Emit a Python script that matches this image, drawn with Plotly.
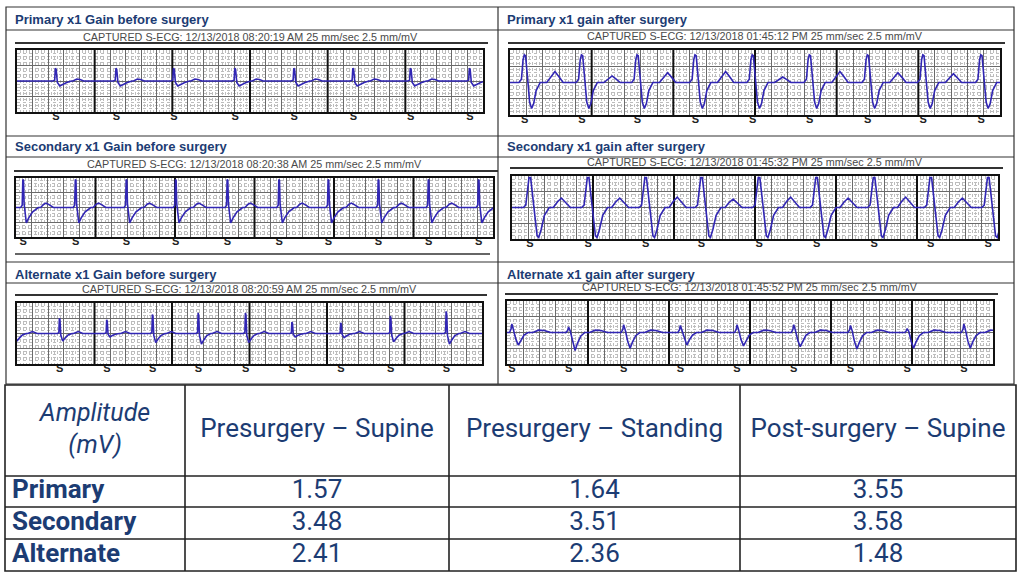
import plotly.graph_objects as go

W, H = 1021, 576
NAVY = "#1c3c73"
ECG_BLUE = "#3126b4"

# ---- amplitude table (mV) ----
conditions = ["Presurgery – Supine", "Presurgery – Standing", "Post-surgery – Supine"]
leads = ["Primary", "Secondary", "Alternate"]
primary_mv = [1.57, 1.64, 3.55]
secondary_mv = [3.48, 3.51, 3.58]
alternate_mv = [2.41, 2.36, 1.48]

# ---- strip headers ----
strip_titles = [
    "Primary x1 Gain before surgery", "Primary x1 gain after surgery",
    "Secondary x1 Gain before surgery", "Secondary x1 gain after surgery",
    "Alternate x1 Gain before surgery", "Alternate x1 gain after surgery",
]
capture_times = ["08:20:19 AM", "01:45:12 PM", "08:20:38 AM",
                 "01:45:32 PM", "08:20:59 AM", "01:45:52 PM"]

# ---- ECG beats (s) and beat templates (s rel. to R, mV) ----
# primary, before
beats_pb = [0.50, 1.28, 2.02, 2.81, 3.57, 4.33, 5.07, 5.83]
qrs_t_pb = [-0.04, -0.015, -0.006, 0.004, 0.02, 0.05, 0.09, 0.14, 0.2]
qrs_v_pb = [0.0, 0.1, 1.65, 1.5, -0.2, -0.65, -0.4, -0.2, 0.0]
tw_t_pb = [0.22, 0.27, 0.31, 0.36]
tw_v_pb = [0.0, 0.25, 0.2, 0.0]

# primary, after
beats_pa = [0.18, 0.88, 1.56, 2.27, 2.97, 3.67, 4.38, 5.06, 5.77]
qrs_t_pa = [-0.07, -0.04, -0.02, -0.005, 0.01, 0.035, 0.06, 0.085, 0.11, 0.14, 0.19]
qrs_v_pa = [0.0, 0.4, 2.8, 3.4, 3.3, 0.6, -2.4, -3.2, -2.6, -1.0, 0.0]
tw_t_pa = [0.27, 0.32, 0.37, 0.42, 0.47]
tw_v_pa = [0.0, 0.7, 1.35, 0.7, 0.0]
t_amp_pa = [1.0, 0.6, 0.9, 1.0, 0.5, 1.0, 0.9, 0.8, 1.0]

# secondary, before
beats_sb = [0.09, 0.75, 1.39, 2.01, 2.66, 3.31, 3.93, 4.56, 5.19, 5.82]
qrs_t_sb = [-0.03, -0.012, -0.004, 0.004, 0.012, 0.04, 0.07, 0.12, 0.19]
qrs_v_sb = [0.0, 0.3, 3.8, 3.7, 0.5, -2.1, -1.4, -0.6, 0.0]
tw_t_sb = [0.22, 0.26, 0.29, 0.33, 0.38]
tw_v_sb = [0.0, 0.45, 0.6, 0.35, 0.0]

# secondary, after
beats_sa = [0.22, 0.94, 1.65, 2.34, 3.05, 3.76, 4.47, 5.17, 5.88]
qrs_t_sa = [-0.08, -0.05, -0.025, -0.01, 0.01, 0.03, 0.06, 0.09, 0.11, 0.14, 0.18, 0.24]
qrs_v_sa = [0.0, 0.3, 2.5, 3.8, 3.8, 2.0, -1.5, -3.6, -3.8, -2.8, -1.0, 0.0]
tw_t_sa = [0.29, 0.34, 0.39, 0.44, 0.5]
tw_v_sa = [0.0, 0.7, 1.2, 0.7, 0.0]
t_amp_sa = [1.0, 1.0, 1.1, 0.9, 1.1, 1.0, 1.1, 1.0, 1.0]

# alternate, before (template normalised, amplitudes per beat in mV)
beats_ab = [-0.04, 0.55, 1.16, 1.75, 2.34, 2.95, 3.55, 4.18, 4.82, 5.54]
qrs_t_ab = [-0.03, -0.01, -0.003, 0.004, 0.015, 0.04, 0.07, 0.11, 0.16]
qrs_v_ab = [0.0, 0.05, 1.0, 0.9, -0.2, -1.0, -0.6, -0.2, 0.0]
tw_t_ab = [0.18, 0.24, 0.3]
tw_v_ab = [0.0, 0.25, 0.0]
r_amp_ab = [2.0, 2.0, 1.8, 2.5, 2.7, 2.7, 1.5, 1.4, 2.3, 2.9]
s_amp_ab = [1.0, 1.0, 0.45, 1.2, 1.4, 1.2, 0.45, 0.55, 1.1, 1.4]

# alternate, after
beats_aa = [0.06, 0.76, 1.44, 2.14, 2.84, 3.54, 4.24, 4.94, 5.64]
qrs_t_aa = [-0.03, -0.01, 0.0, 0.02, 0.05, 0.08, 0.11, 0.15, 0.2]
qrs_v_aa = [0.0, 0.4, 1.0, 0.3, -0.55, -1.0, -0.6, -0.2, 0.0]
tw_t_aa = [0.26, 0.33, 0.4, 0.48]
tw_v_aa = [0.0, 0.3, 0.25, 0.0]
r_amp_aa = [1.1, 0.7, 1.0, 0.9, 1.0, 1.0, 0.9, 0.5, 1.1]
s_amp_aa = [1.6, 2.3, 2.0, 1.6, 1.7, 1.8, 2.1, 2.0, 2.0]


def ecg(beats, qrs_t, qrs_v, tw_t, tw_v, r_amp=None, s_amp=None, t_amp=None):
    xs, ys = [-1.0], [0.0]
    for i, b in enumerate(beats):
        r = r_amp[i] if r_amp else 1.0
        s = s_amp[i] if s_amp else 1.0
        tg = t_amp[i] if t_amp else 1.0
        for t, v in zip(qrs_t, qrs_v):
            xs.append(b + t)
            ys.append(v * (r if v > 0 else s))
        for t, v in zip(tw_t, tw_v):
            xs.append(b + t)
            ys.append(v * tg)
    xs.append(7.0)
    ys.append(0.0)
    return xs, ys


strips = [
    (beats_pb, ecg(beats_pb, qrs_t_pb, qrs_v_pb, tw_t_pb, tw_v_pb)),
    (beats_pa, ecg(beats_pa, qrs_t_pa, qrs_v_pa, tw_t_pa, tw_v_pa, t_amp=t_amp_pa)),
    (beats_sb, ecg(beats_sb, qrs_t_sb, qrs_v_sb, tw_t_sb, tw_v_sb)),
    (beats_sa, ecg(beats_sa, qrs_t_sa, qrs_v_sa, tw_t_sa, tw_v_sa, t_amp=t_amp_sa)),
    (beats_ab, ecg(beats_ab, qrs_t_ab, qrs_v_ab, tw_t_ab, tw_v_ab, r_amp_ab, s_amp_ab)),
    (beats_aa, ecg(beats_aa, qrs_t_aa, qrs_v_aa, tw_t_aa, tw_v_aa, r_amp_aa, s_amp_aa)),
]

# strip boxes in pixels: x0, x1, y0, y1
strip_px = [(17, 483, 50, 112), (510, 1000, 50, 115),
            (16, 493, 178, 237), (512, 998, 176, 239),
            (17, 482, 303, 364), (507, 993, 301, 364)]
title_y = [19, 19, 147, 147, 274, 274]
caption_y = [37, 36, 164, 162, 289, 287]
rule_y = [43, 43, 171, 168, 295, 294]


def px(x):
    return x / W


def py(y):
    return 1 - y / H


fig = go.Figure()
shapes = []
annotations = []

for i, (beats, (xs, ys)) in enumerate(strips):
    n = i + 1
    xa, ya = ("x", "y") if n == 1 else (f"x{n}", f"y{n}")
    sfx = "" if n == 1 else str(n)
    x0, x1, y0, y1 = strip_px[i]
    # one-second divisions drawn as a line trace under the ECG
    sec_x, sec_y = [], []
    for k in range(1, 6):
        sec_x += [k, k, None]
        sec_y += [-4, 4, None]
    fig.add_trace(go.Scatter(x=sec_x, y=sec_y, mode="lines", xaxis=xa, yaxis=ya,
                             line=dict(color="#111", width=2), hoverinfo="skip",
                             showlegend=False))
    fig.add_trace(go.Scatter(x=xs, y=ys, mode="lines", xaxis=xa, yaxis=ya,
                             line=dict(color=ECG_BLUE, width=1.6), hoverinfo="skip",
                             showlegend=False))
    shown = [b for b in beats if 0 <= b <= 6]
    fig.add_trace(go.Scatter(x=shown, y=[-4] * len(shown), mode="text",
                             text=["<b>S</b>"] * len(shown),
                             textposition="bottom center", cliponaxis=False,
                             textfont=dict(family="Arial, Liberation Sans", size=11, color="#222"),
                             xaxis=xa, yaxis=ya, hoverinfo="skip", showlegend=False))
    fig.update_layout({
        f"xaxis{sfx}": dict(
            domain=[px(x0), px(x1)], range=[0, 6], anchor=ya, dtick=0.2, tick0=0,
            showgrid=True, gridcolor="#6a6a6a", gridwidth=1,
            minor=dict(dtick=0.04, showgrid=True, gridcolor="#bdbdbd", griddash="dot", gridwidth=0.6),
            showticklabels=False, ticks="", zeroline=False,
            showline=True, mirror=True, linecolor="#111", linewidth=2, fixedrange=True),
        f"yaxis{sfx}": dict(
            domain=[py(y1), py(y0)], range=[-4, 4], anchor=xa, dtick=2, tick0=0,
            showgrid=True, gridcolor="#6a6a6a", gridwidth=1,
            minor=dict(dtick=0.4, showgrid=True, gridcolor="#bdbdbd", griddash="dot", gridwidth=0.6),
            showticklabels=False, ticks="", zeroline=False,
            showline=True, mirror=True, linecolor="#111", linewidth=2, fixedrange=True),
    })
    # title, caption and its rule
    tx = 13 if i % 2 == 0 else 505
    annotations.append(dict(xref="paper", yref="paper", x=px(tx), y=py(title_y[i]),
                            xanchor="left", yanchor="middle", showarrow=False,
                            text=f"<b>{strip_titles[i]}</b>",
                            font=dict(family="Arial, Liberation Sans", size=13, color=NAVY)))
    annotations.append(dict(xref="paper", yref="paper", x=px((x0 + x1) / 2), y=py(caption_y[i]),
                            xanchor="center", yanchor="middle", showarrow=False,
                            text=f"CAPTURED S-ECG: 12/13/2018 {capture_times[i]} 25 mm/sec 2.5 mm/mV",
                            font=dict(family="Arial, Liberation Sans", size=10.8, color="#4a4a4a")))
    shapes.append(dict(type="line", xref="paper", yref="paper", x0=px(x0 - 2), x1=px(x1 + 5),
                       y0=py(rule_y[i]), y1=py(rule_y[i]), line=dict(color="#333", width=2)))

# panel frames
frame = dict(color="#333", width=1.2)
shapes.append(dict(type="rect", xref="paper", yref="paper", x0=px(6), x1=px(1014),
                   y0=py(384), y1=py(7), line=frame))
shapes.append(dict(type="line", xref="paper", yref="paper", x0=px(498), x1=px(498),
                   y0=py(384), y1=py(7), line=frame))
for yy in [30, 136, 157, 262, 283]:
    shapes.append(dict(type="line", xref="paper", yref="paper", x0=px(6), x1=px(1014),
                       y0=py(yy), y1=py(yy), line=frame))
shapes.append(dict(type="line", xref="paper", yref="paper", x0=px(15), x1=px(490),
                   y0=py(254), y1=py(254), line=dict(color="#333", width=1.5)))

# ---- table on its own pixel axis ----
col_edges = [5, 185, 449, 740, 1016]
row_edges = [385, 476, 507, 539, 571]
col_mid = [(a + b) / 2 for a, b in zip(col_edges[1:-1], col_edges[2:])]
row_mid = [(a + b) / 2 for a, b in zip(row_edges[1:-1], row_edges[2:])]
head_mid = (row_edges[0] + row_edges[1]) / 2
tfont = dict(family="Roboto", size=26, color=NAVY)

fig.add_trace(go.Scatter(x=col_mid, y=[head_mid] * 3, mode="text",
                         text=conditions, textposition="middle center", textfont=tfont,
                         xaxis="x7", yaxis="y7", hoverinfo="skip", showlegend=False))
fig.add_trace(go.Scatter(x=[(col_edges[0] + col_edges[1]) / 2], y=[head_mid],
                         mode="text", text=["<i>Amplitude</i><br><i>(mV)</i>"],
                         textposition="middle center", textfont=dict(family="Roboto", size=25, color=NAVY),
                         xaxis="x7", yaxis="y7", hoverinfo="skip", showlegend=False))
fig.add_trace(go.Scatter(x=[col_edges[0] + 7] * 3, y=row_mid, mode="text",
                         text=[f"<b>{s}</b>" for s in leads], textposition="middle right",
                         textfont=tfont, xaxis="x7", yaxis="y7", hoverinfo="skip", showlegend=False))
for r, vals in enumerate([primary_mv, secondary_mv, alternate_mv]):
    fig.add_trace(go.Scatter(x=col_mid, y=[row_mid[r]] * 3, mode="text",
                             text=[f"{v:.2f}" for v in vals], textposition="middle center",
                             textfont=tfont, xaxis="x7", yaxis="y7", hoverinfo="skip",
                             showlegend=False))

tline = dict(color="#222", width=1.6)
shapes.append(dict(type="rect", xref="x7", yref="y7", x0=col_edges[0], x1=col_edges[-1],
                   y0=row_edges[0], y1=row_edges[-1], line=tline))
for c in col_edges[1:-1]:
    shapes.append(dict(type="line", xref="x7", yref="y7", x0=c, x1=c,
                       y0=row_edges[0], y1=row_edges[-1], line=tline))
for r in row_edges[1:-1]:
    shapes.append(dict(type="line", xref="x7", yref="y7", x0=col_edges[0], x1=col_edges[-1],
                       y0=r, y1=r, line=tline))

fig.update_layout(
    xaxis7=dict(domain=[0, 1], range=[0, W], visible=False, anchor="y7", fixedrange=True),
    yaxis7=dict(domain=[0, py(380)], range=[H, 380], visible=False, anchor="x7", fixedrange=True),
    width=W, height=H,
    margin=dict(l=0, r=0, t=0, b=0),
    paper_bgcolor="white", plot_bgcolor="white",
    shapes=shapes, annotations=annotations,
    showlegend=False,
)

# the page body has a default 8px margin; drop it so the figure fills the window
fig.write_html("out.html", config={"displayModeBar": False},
               post_script="document.body.style.margin = '0';")
